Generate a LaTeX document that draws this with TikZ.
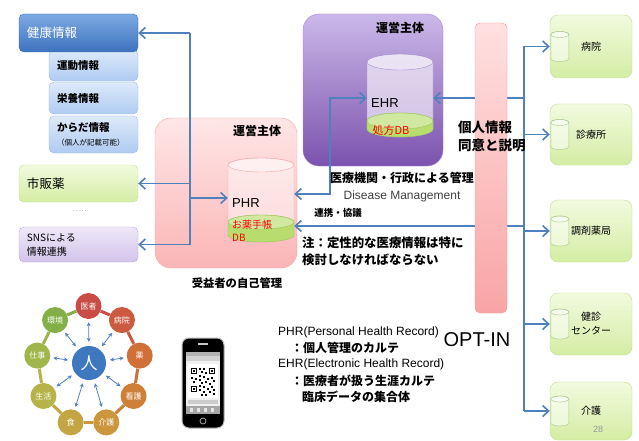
\documentclass[tikz,border=0pt]{standalone}
\usepackage{fontspec}
\setmainfont{Liberation Sans}
\newfontfamily\jp{Noto Sans CJK JP}
\usepackage{tikz}
\usetikzlibrary{shapes}
\usetikzlibrary{arrows.meta}

\definecolor{linkblue}{HTML}{4F81BD}
\definecolor{kenkoTop}{HTML}{7DAAE3}
\definecolor{kenkoBot}{HTML}{3D72BE}
\definecolor{kenkoLine}{HTML}{3A6DB3}
\definecolor{subTop}{HTML}{DDEAFB}
\definecolor{subBot}{HTML}{AFCBF1}
\definecolor{subLine}{HTML}{9DBBE6}
\definecolor{greenTop}{HTML}{F2FADE}
\definecolor{greenBot}{HTML}{D4EDA4}
\definecolor{greenLine}{HTML}{C2DE92}
\definecolor{lilacTop}{HTML}{EEE8F8}
\definecolor{lilacBot}{HTML}{D2C4EA}
\definecolor{lilacLine}{HTML}{B9A7D8}
\definecolor{pinkTop}{HTML}{FFE6E6}
\definecolor{pinkBot}{HTML}{FBB5B6}
\definecolor{pinkLine}{HTML}{F2A7A8}
\definecolor{purpTop}{HTML}{CBB8E9}
\definecolor{purpBot}{HTML}{7B52AD}
\definecolor{purpLine}{HTML}{A78CD2}
\definecolor{barTop}{HTML}{FFE0E0}
\definecolor{barBot}{HTML}{F9A4A5}
\definecolor{barLine}{HTML}{F19C9D}
\definecolor{bandFill}{HTML}{B8DC6E}
\definecolor{bandLine}{HTML}{9CC75A}
\definecolor{canLine}{HTML}{A7C98A}
\definecolor{hitoBlue}{HTML}{3E78BF}
\definecolor{ring1}{HTML}{C94C47}
\definecolor{ring2}{HTML}{CB5A40}
\definecolor{ring3}{HTML}{D06F38}
\definecolor{ring4}{HTML}{CF8038}
\definecolor{ring5}{HTML}{CB963C}
\definecolor{ring6}{HTML}{C4A543}
\definecolor{ring7}{HTML}{B6B349}
\definecolor{ring8}{HTML}{A0B54A}
\definecolor{ring9}{HTML}{84AF47}

% database can: centre, half width, top, bottom, ellipse radius, style
\newcommand{\dbcan}[6]{%
	\begin{scope}[shift={(#1)}]
		\filldraw[#6] (-#2,#3) -- (-#2,#4) arc[start angle=180, end angle=0, x radius=#2, y radius=#5] -- (#2,#3) arc[start angle=0, end angle=-180, x radius=#2, y radius=#5] -- cycle;
		\fill[white, fill opacity=0.35] (0,#3) ellipse[x radius=#2, y radius=#5];
		\draw[#6, fill opacity=0] (0,#3) ellipse[x radius=#2, y radius=#5];
	\end{scope}}

\tikzset{
	link/.style={draw=linkblue, line width=1.6pt, >={Straight Barb[length=6pt, width=11pt]}},
	spoke/.style={draw=linkblue, line width=0.8pt, <->, >={Stealth[length=4pt, width=4pt]}, shorten <=4pt, shorten >=3pt},
	infobox/.style={draw=#1Line, top color=#1Top, bottom color=#1Bot, rounded corners=5pt, inner xsep=8pt, inner ysep=2pt, align=left},
	rbox/.style={draw=greenLine, top color=greenTop, bottom color=greenBot, rounded corners=8pt, minimum width=82pt, align=center, font=\jp\fontsize{10}{14}\selectfont},
	orgbox/.style={draw=#1Line, top color=#1Top, bottom color=#1Bot, rounded corners=16pt},
	head/.style={inner sep=0pt, font=\jp\bfseries\fontsize{12}{14}\selectfont},
	note/.style={anchor=west, inner sep=0pt, font=\jp\bfseries\fontsize{12}{14}\selectfont},
	optbar/.style={draw=barLine, top color=barTop, bottom color=barBot, rounded corners=5pt, minimum width=32pt, minimum height=290pt},
	dbarea/.style={inner sep=0pt, minimum width=66pt},
	ringdot/.style={circle, inner sep=0pt, minimum size=26pt, text=white, font=\jp\fontsize{8}{9}\selectfont},
	hito/.style={circle, fill=hitoBlue, minimum size=34pt, inner sep=0pt, text=white, font=\jp\fontsize{17}{18}\selectfont},
	phrcan/.style={draw=pinkLine, fill=white, fill opacity=0.45},
	ehrcan/.style={draw=purpLine, fill=white, fill opacity=0.6},
	band/.style={draw=bandLine, fill=bandFill},
	smallcan/.style={draw=canLine, fill=white, fill opacity=0.5},
}

\begin{document}
\begin{tikzpicture}[x=1pt, y=-1pt]
	\fill[white] (0,0) rectangle (639,441);
	\useasboundingbox (0,0) rectangle (639,441);

	\node[infobox=sub, minimum width=89pt, text width=73pt, minimum height=31pt, font=\jp\bfseries\fontsize{10.5}{12}\selectfont] (undou) at (93.5,65.5) {運動情報};
	\node[infobox=sub, minimum width=89pt, text width=73pt, minimum height=32pt, font=\jp\bfseries\fontsize{10.5}{12}\selectfont] (eiyou) at (93.5,98) {栄養情報};
	\node[infobox=sub, minimum width=89pt, text width=73pt, minimum height=37pt, font=\jp\fontsize{10.5}{14}\selectfont] (karada) at (93.5,134.5) {{\bfseries からだ情報}\\{\fontsize{7.5}{9}\selectfont （個人が記載可能）}};
	\node[infobox=kenko, minimum width=119pt, text width=103pt, minimum height=38pt, text=white, font=\jp\fontsize{12.5}{14}\selectfont] (kenko) at (78.5,33) {健康情報};
	\node[infobox=green, minimum width=119pt, text width=103pt, minimum height=37pt, font=\jp\fontsize{12.5}{14}\selectfont] (shihan) at (78.5,183.5) {市販薬};
	\node[text=gray, font=\fontsize{7}{8}\selectfont] (more) at (80,211) {.\kern1pt.\kern1pt.\kern1pt.\kern1pt.};
	\node[infobox=lilac, minimum width=119pt, text width=103pt, minimum height=35pt, font=\jp\fontsize{10}{14}\selectfont] (sns) at (78.5,244.5) {SNSによる\\情報連携};

	\node[orgbox=pink, minimum width=142pt, minimum height=150pt] (phrorg) at (226,193) {};
	\node[orgbox=purp, minimum width=140pt, minimum height=152pt] (ehrorg) at (373,90) {};
	\node[head] (phrhead) at (257,131) {運営主体};
	\node[head] (ehrhead) at (400,28) {運営主体};

	\node[dbarea, minimum height=70pt] (phrdb) at (261,198) {};
	\node[dbarea, minimum height=67pt] (ehrdb) at (400,98) {};
	\dbcan{phrdb}{33}{-33}{37}{7}{phrcan}
	\dbcan{phrdb}{33}{24}{37}{7}{band}
	\dbcan{ehrdb}{33}{-36}{31}{8}{ehrcan}
	\dbcan{ehrdb}{33}{23}{31}{8}{band}
	\node[anchor=west, inner sep=0pt, font=\fontsize{13}{15}\selectfont] (phrname) at (232,203) {PHR};
	\node[anchor=west, inner sep=0pt, align=left, text=red, font=\jp\fontsize{10}{13}\selectfont] (okusuri) at (232,230.5) {お薬手帳\\DB};
	\node[anchor=west, inner sep=0pt, font=\fontsize{13}{15}\selectfont] (ehrname) at (371,103) {EHR};
	\node[text=red, inner sep=0pt, font=\jp\fontsize{11}{13}\selectfont] (shohou) at (391,130) {処方DB};

	\node[rbox, minimum height=63pt] (hosp) at (591,46.5) {病院};
	\node[rbox, minimum height=61pt] (clinic) at (591,134.5) {診療所};
	\node[rbox, minimum height=62pt] (pharm) at (591,231) {調剤薬局};
	\node[rbox, minimum height=62pt] (checkup) at (591,324) {健診\\センター};
	\node[rbox, minimum height=58pt] (care) at (591,411) {介護};
	\foreach \n in {hosp,clinic,pharm,checkup,care}{
		\dbcan{[xshift=10pt]\n.west}{9}{-12}{12}{3}{smallcan}
	}

	\coordinate (lbus) at (190,0);
	\coordinate (rbus) at (524,0);
	\coordinate (phrup) at ([yshift=4pt]phrdb.east);
	\coordinate (phrdown) at ([yshift=-28pt]phrdb.east);
	\draw[link] (kenko.east -| lbus) -- (sns.east -| lbus);
	\foreach \n in {kenko,shihan,sns}
		\draw[link,->] (\n.east -| lbus) -- (\n.east);
	\draw[link,->] (phrdb.west -| lbus) -- (phrdb.west);
	\draw[link,<->] (phrup) -- ++(36,0) |- (ehrdb.west);
	\draw[link,->] (phrdown -| rbus) -- (phrdown);
	\draw[link,->] (ehrdb.east -| rbus) -- (ehrdb.east);
	\draw[link] (hosp.west -| rbus) -- (care.west -| rbus);
	\foreach \n in {hosp,clinic,pharm,checkup,care}
		\draw[link,->] (\n.west -| rbus) -- (\n.west);

	\node[optbar] (optin) at (491,168) {};

	\node[note, font=\jp\bfseries\fontsize{13.5}{18}\selectfont, align=left] (consent) at (458,136) {個人情報\\同意と説明};
	\node[head] (admin) at (402,178) {医療機関・行政による管理};
	\node[text=black!75, inner sep=0pt, font=\fontsize{12}{14}\selectfont] (dm) at (402,196) {Disease Management};
	\node[head, font=\jp\bfseries\fontsize{9.5}{11}\selectfont] (renkei) at (338,213) {連携・協議};
	\node[note, align=left, font=\jp\bfseries\fontsize{12.4}{17}\selectfont] (caution) at (302,251.5) {注：定性的な医療情報は特に\\検討しなければならない};
	\node[head, font=\jp\bfseries\fontsize{11.3}{13}\selectfont] (self) at (237,283) {受益者の自己管理};
	\node[inner sep=0pt, font=\fontsize{20}{22}\selectfont] (optlabel) at (477,340) {OPT-IN};

	\node[anchor=west, inner sep=0pt, font=\fontsize{12}{14}\selectfont] (phrdef) at (278,332) {PHR(Personal Health Record)};
	\node[note] (phrnote) at (291,348) {：個人管理のカルテ};
	\node[anchor=west, inner sep=0pt, font=\fontsize{12}{14}\selectfont] (ehrdef) at (278,364) {EHR(Electronic Health Record)};
	\node[note] (ehrnote) at (291,381) {：医療者が扱う生涯カルテ};
	\node[note] (ehrnote2) at (302,397) {臨床データの集合体};

	\node[hito] (hito) at (89,363) {人};
	\foreach \lab [count=\i] in {医者,病院,薬,看護,介護,食,生活,仕事,環境}
		\node[ringdot, fill=ring\i] (r\i) at ({88.5+52*cos(130-40*\i)},{366-60*sin(130-40*\i)}) {\lab};
	\foreach \i [remember=\i as \j (initially 9)] in {1,...,9}
		\draw[line width=3pt, draw=ring\j] (r\j) -- (r\i);
	\foreach \i in {1,...,9}
		\draw[spoke] (hito) -- (r\i);

	\filldraw[fill=black, draw=gray!55, line width=1pt, rounded corners=7pt] (182,338) rectangle (224,428);
	\fill[gray!45] (198,343) rectangle (208,345);
	\fill[gray!12] (186,352) rectangle (220,414);
	\fill[gray!60] (186,352) rectangle (220,356);
	\fill[gray!35] (186,356) rectangle (220,361);
	\fill[white] (188,364) rectangle (218,398);
	\foreach \qx/\qy in {191/368,209/368,191/386}{
		\draw[line width=1pt] (\qx+0.5,\qy+0.5) rectangle (\qx+5.5,\qy+5.5);
		\fill (\qx+2,\qy+2) rectangle (\qx+4,\qy+4);
	}
	\foreach \qx/\qy in {199/368,203/368,201/371,205/372,199/375,203/376,191/377,195/378,199/379,207/378,211/377,213/380,193/381,201/382,205/381,209/383,199/385,203/386,211/386,207/388,213/389,199/389,203/391,209/391,201/394,205/394,213/393}
		\fill (\qx,\qy) rectangle (\qx+2,\qy+2);
	\fill[gray!40] (188,400) rectangle (218,404);
	\fill[gray!70] (186,406) rectangle (220,414);
	\foreach \qx in {190,197,204,211}
		\fill[white!80!gray] (\qx,408) rectangle (\qx+3,412);
	\draw[gray!70, line width=0.8pt] (203,421) circle (3);

	\node[text=gray!80, inner sep=0pt, font=\fontsize{9}{10}\selectfont] (pageno) at (598,429) {28};
\end{tikzpicture}
\end{document}
